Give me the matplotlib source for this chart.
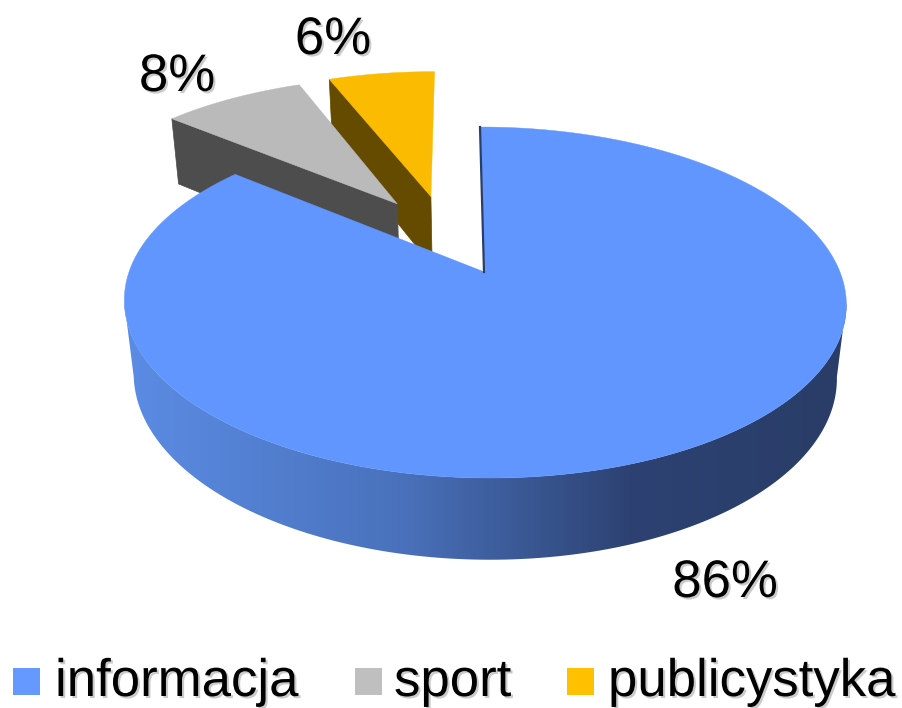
import numpy as np
import matplotlib
matplotlib.use('Agg')
import matplotlib.pyplot as plt
import matplotlib.patheffects as pe
from matplotlib.colors import LinearSegmentedColormap

# values of the chart
categories = ['informacja', 'sport', 'publicystyka']
shares = [86, 8, 6]

# colours per slice: top face, cut face, legend box
top_colors = ['#6096FE', '#BABABA', '#FABB00']
cut_colors = ['#2B3E69', '#4D4D4D', '#654B00']
legend_colors = ['#6699FF', '#BFBFBF', '#FFC000']

# exploded offset of each slice on the disc (x, towards the viewer)
offsets = [(0.0, 0.0), (-0.258, -0.43), (-0.157, -0.48)]

# where the texts go, in pixels
label_pos = [(725, 597), (177, 91), (333, 54)]
legend_box_x = [13, 355, 567]
legend_text_x = [55, 394, 608]

plt.rcParams['font.family'] = ['Liberation Sans', 'DejaVu Sans']

# camera of the fake 3d pie
CX, CY = 484.5, 272
B, S, A, K = 355.5, 4.7, 170.2, 0.1738
DEPTH, DROP = 0.026, 75


def project(x, yf, low=False):
    '''disc coordinates to pixels, low=True gives the bottom face of the pie'''
    d = DEPTH if low else 0
    c = DROP if low else 0
    w = 1 - K * yf + d
    return CX + (B * x + S * yf) / w, CY + (A * yf + c) / w


def rim(t, off=(0, 0), low=False):
    # t is in degrees clockwise from 12 o'clock
    t = np.radians(t)
    return project(np.sin(t) + off[0], -np.cos(t) + off[1], low)


def cut_face(t, off, color):
    x0, y0 = rim(t, off)
    x1, y1 = rim(t, off, low=True)
    x2, y2 = project(off[0], off[1], low=True)
    x3, y3 = project(off[0], off[1])
    ax.fill([x0, x1, x2, x3], [y0, y1, y2, y3], color=color, lw=0.5)


def top_face(t0, t1, off, color):
    t = np.linspace(t0, t1, 300)
    x, y = rim(t, off)
    cx, cy = project(off[0], off[1])
    ax.fill(np.r_[cx, x], np.r_[cy, y], color=color, lw=0.3)


fig = plt.figure(figsize=(9.02, 7.08), dpi=100)
ax = fig.add_axes([0, 0, 1, 1])

edges = np.cumsum([0] + shares) * 3.6

# small slices first, the big one covers them
for i in [2, 1]:
    cut_face(edges[i], offsets[i], cut_colors[i])
    top_face(edges[i], edges[i + 1], offsets[i], top_colors[i])

# outer wall of the big slice, shaded from left to right
wall = LinearSegmentedColormap.from_list('wall', [(0, '#5B8CE4'), (0.38, '#4A72BC'),
                                                  (0.7, '#2D4272'), (1, '#2A3D68')])
t = np.linspace(100, 260, 400)
xt, yt = rim(t)
xb, yb = rim(t, low=True)
gradient = np.linspace(0, 1, 512).reshape(1, -1)
img = ax.imshow(gradient, cmap=wall, aspect='auto', interpolation='bilinear',
                extent=(xt.min(), xt.max(), 708, 0))
outline = plt.Polygon(np.c_[np.r_[xt, xb[::-1]], np.r_[yt, yb[::-1]]], transform=ax.transData)
img.set_clip_path(outline)

# thin cut at 12 o'clock
x0, y0 = rim(0)
x1, y1 = project(0, 0)
ax.plot([x0 - 0.5, x1 - 0.5], [y0, y1], color=cut_colors[0], lw=1.6)
top_face(edges[0], edges[1], offsets[0], top_colors[0])

shadow = [pe.withSimplePatchShadow(offset=(1.5, -1.5), shadow_rgbFace='#999999', alpha=0.5)]

for share, (x, y) in zip(shares, label_pos):
    ax.text(x, y, '%d%%' % share, fontsize=38, ha='center', va='baseline', color='black',
            path_effects=shadow)

for name, color, bx, tx in zip(categories, legend_colors, legend_box_x, legend_text_x):
    ax.add_patch(plt.Rectangle((bx, 668), 27, 27, color=color, lw=0))
    ax.text(tx, 696, name, fontsize=38, ha='left', va='baseline', color='black',
            path_effects=shadow)

ax.set_xlim(0, 902)
ax.set_ylim(708, 0)
ax.axis('off')

fig.savefig('out.png', dpi=100)
